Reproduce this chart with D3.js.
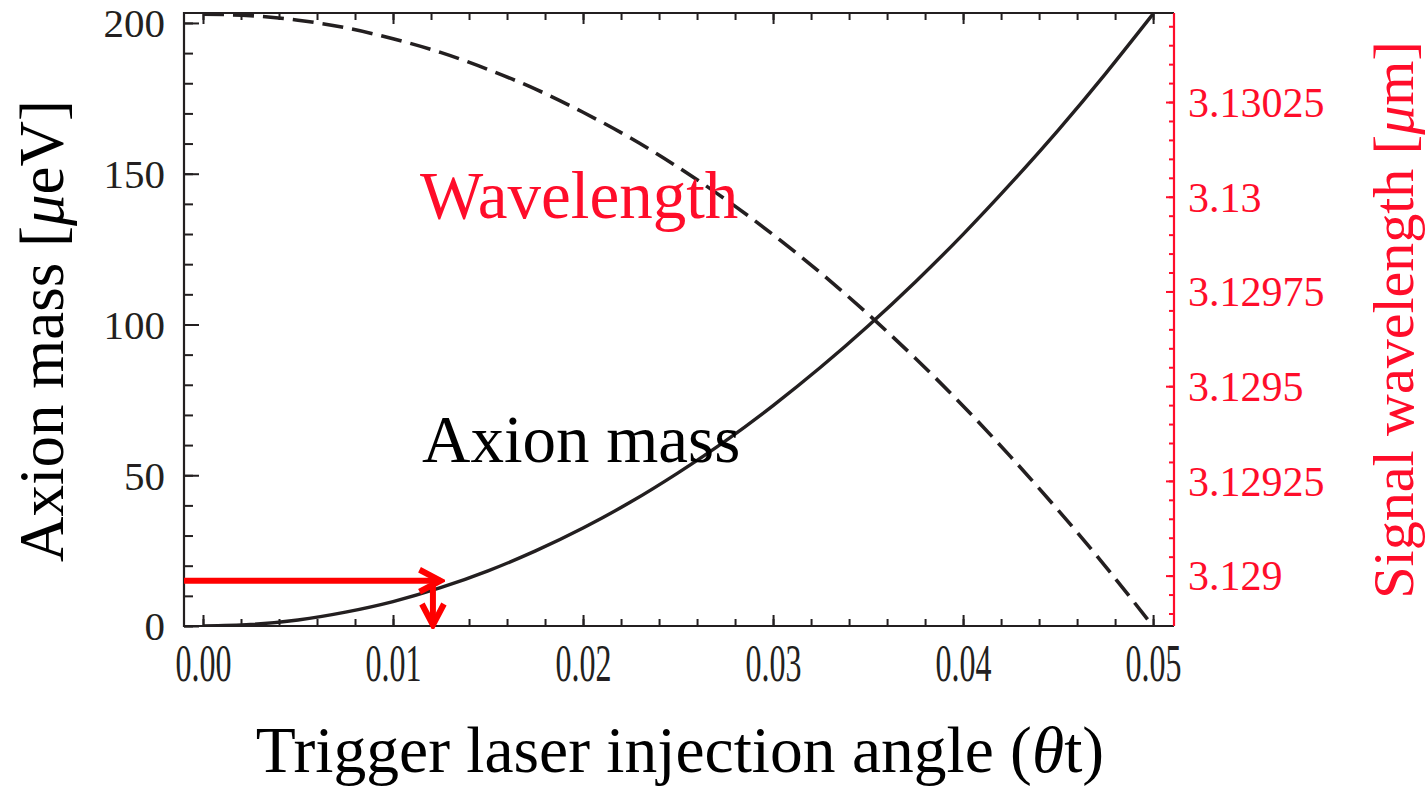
<!DOCTYPE html>
<html>
<head>
<meta charset="utf-8">
<script src="https://cdn.jsdelivr.net/npm/d3@7/dist/d3.min.js"></script>
<style>
  html, body { margin: 0; padding: 0; background: #ffffff; }
  svg { display: block; }
</style>
</head>
<body>
<svg id="chart" width="1427" height="788"></svg>
<script>
// Trigger laser injection angle (rad)
const angle = [0, 0.0025, 0.005, 0.0075, 0.01, 0.0125, 0.015, 0.0175, 0.02, 0.0225,
  0.025, 0.0275, 0.03, 0.0325, 0.035, 0.0375, 0.04, 0.0425, 0.045, 0.0475, 0.05];
// Axion mass [µeV]
const axionMass = [0, 0.5, 2.0, 4.6, 8.1, 12.7, 18.3, 24.9, 32.5, 41.1,
  50.8, 61.4, 73.1, 85.8, 99.5, 114.2, 129.9, 146.7, 164.4, 183.2, 203.0];
// Signal wavelength [µm]
const signalWavelength = [3.130482, 3.130478, 3.130466, 3.130446, 3.130417, 3.130381,
  3.130336, 3.130284, 3.130223, 3.130155, 3.130078, 3.129993, 3.129900, 3.129799,
  3.129690, 3.129573, 3.129448, 3.129314, 3.129173, 3.129024, 3.128866];

const angleTicks = [0, 0.01, 0.02, 0.03, 0.04, 0.05];
const angleTickLabels = ["0.00", "0.01", "0.02", "0.03", "0.04", "0.05"];
const massTicks = [0, 50, 100, 150, 200];
const wavelengthTicks = [3.129, 3.12925, 3.1295, 3.12975, 3.13, 3.13025];
const wavelengthTickLabels = ["3.129", "3.12925", "3.1295", "3.12975", "3.13", "3.13025"];

// Working point marked with red arrows
const markerMass = 15;
const markerAngle = 0.0121;
const markerArrowTip = 0.0125;

const angleDomain = [-0.001, 0.0511];
const massDomain = [0, 203.3];
const wavelengthDomain = [3.128867, 3.130485];

const RED = "#ff0d2a";
const INK = "#231f20";
const FONT = "'Liberation Serif', 'Times New Roman', serif";

const plot = { left: 184, right: 1174, top: 13, bottom: 626 };

const svg = d3.select("#chart");
svg.append("rect").attr("width", 1427).attr("height", 788).attr("fill", "#fff");

const x = d3.scaleLinear().domain(angleDomain).range([plot.left, plot.right]);
const y = d3.scaleLinear().domain(massDomain).range([plot.bottom, plot.top]);
const yR = d3.scaleLinear().domain(wavelengthDomain).range([plot.bottom, plot.top]);

const rangeStep = (a, b, s) => d3.range(Math.round((b - a) / s) + 1).map(i => a + i * s);
const minorAngle = rangeStep(0, 0.05, 0.002);
const minorMass = rangeStep(0, 200, 10);
const minorWave = rangeStep(3.12890, 3.13045, 0.00005);

function styleAxis(g, color) {
  g.select(".domain").remove();
  g.selectAll("line").attr("stroke", color).attr("stroke-width", 2);
  g.selectAll("text").attr("fill", color).style("font-family", FONT);
}

// bottom axis
const gB = svg.append("g").attr("transform", `translate(0,${plot.bottom})`);
gB.append("g").call(d3.axisBottom(x).tickValues(minorAngle).tickSize(-7).tickFormat(""))
  .call(g => styleAxis(g, INK));
gB.append("g").call(d3.axisBottom(x).tickValues(angleTicks).tickSize(-11).tickPadding(18)
    .tickFormat((d, i) => angleTickLabels[i]))
  .call(g => styleAxis(g, INK))
  .call(g => g.selectAll("text")
    .attr("dy", "0.71em")
    .style("font-size", "52px")
    .attr("textLength", 56)
    .attr("lengthAdjust", "spacingAndGlyphs")
    .attr("x", -28)
    .attr("text-anchor", "start"));

// top axis (mirrored ticks)
const gT = svg.append("g").attr("transform", `translate(0,${plot.top})`);
gT.append("g").call(d3.axisTop(x).tickValues(minorAngle).tickSize(-7).tickFormat(""))
  .call(g => styleAxis(g, INK));
gT.append("g").call(d3.axisTop(x).tickValues(angleTicks).tickSize(-11).tickFormat(""))
  .call(g => styleAxis(g, INK));

// left axis: axion mass
const gL = svg.append("g").attr("transform", `translate(${plot.left},0)`);
gL.append("g").call(d3.axisLeft(y).tickValues(minorMass).tickSize(-9).tickFormat(""))
  .call(g => styleAxis(g, INK));
gL.append("g").call(d3.axisLeft(y).tickValues(massTicks).tickSize(-15).tickPadding(19)
    .tickFormat(d3.format("d")))
  .call(g => styleAxis(g, INK))
  .call(g => g.selectAll("text").style("font-size", "41px").attr("dy", "0.34em"));

// right axis: signal wavelength
const gR = svg.append("g").attr("transform", `translate(${plot.right},0)`);
gR.append("g").call(d3.axisRight(yR).tickValues(minorWave).tickSize(-5).tickFormat(""))
  .call(g => styleAxis(g, RED));
gR.append("g").call(d3.axisRight(yR).tickValues(wavelengthTicks).tickSize(-8).tickPadding(14)
    .tickFormat((d, i) => wavelengthTickLabels[i]))
  .call(g => styleAxis(g, RED))
  .call(g => g.selectAll("text").style("font-size", "42px").attr("dy", "0.34em"));

// frame
svg.append("path")
  .attr("d", `M${plot.right},${plot.top}H${plot.left}V${plot.bottom}H${plot.right}`)
  .attr("fill", "none").attr("stroke", INK).attr("stroke-width", 2.2);
svg.append("line")
  .attr("x1", plot.right).attr("x2", plot.right)
  .attr("y1", plot.top).attr("y2", plot.bottom)
  .attr("stroke", RED).attr("stroke-width", 2.2);

// curves
svg.append("clipPath").attr("id", "plotClip").append("rect")
  .attr("x", plot.left).attr("y", plot.top - 3)
  .attr("width", plot.right - plot.left).attr("height", plot.bottom - plot.top + 3);

const curves = svg.append("g").attr("clip-path", "url(#plotClip)");

const massLine = d3.line().curve(d3.curveNatural)
  .x((d, i) => x(angle[i])).y(d => y(d));
const waveLine = d3.line().curve(d3.curveNatural)
  .x((d, i) => x(angle[i])).y(d => yR(d));

curves.append("path").datum(axionMass)
  .attr("d", massLine)
  .attr("fill", "none").attr("stroke", INK).attr("stroke-width", 3.4);

curves.append("path").datum(signalWavelength)
  .attr("d", waveLine)
  .attr("fill", "none").attr("stroke", INK).attr("stroke-width", 3.6)
  .attr("stroke-dasharray", "21,9");

// red arrows
const defs = svg.append("defs");
defs.append("marker")
  .attr("id", "chevron")
  .attr("markerUnits", "userSpaceOnUse")
  .attr("viewBox", "-2 -14 30 28")
  .attr("markerWidth", 30).attr("markerHeight", 28)
  .attr("refX", 24).attr("refY", 0)
  .attr("orient", "auto")
  .append("path")
  .attr("d", "M3,-11L24,0L3,11")
  .attr("fill", "none").attr("stroke", "#ff0000")
  .attr("stroke-width", 6).attr("stroke-linejoin", "miter");

svg.append("line")
  .attr("x1", x(angleDomain[0])).attr("y1", y(markerMass))
  .attr("x2", x(markerArrowTip)).attr("y2", y(markerMass))
  .attr("stroke", "#ff0000").attr("stroke-width", 6)
  .attr("marker-end", "url(#chevron)");

svg.append("line")
  .attr("x1", x(markerAngle)).attr("y1", y(markerMass))
  .attr("x2", x(markerAngle)).attr("y2", y(0) - 1)
  .attr("stroke", "#ff0000").attr("stroke-width", 6)
  .attr("marker-end", "url(#chevron)");

// in-plot labels
svg.append("text")
  .attr("x", 420).attr("y", 218)
  .attr("fill", RED)
  .style("font-family", FONT).style("font-size", "67px")
  .text("Wavelength");

svg.append("text")
  .attr("x", 422).attr("y", 462)
  .attr("fill", "#000")
  .style("font-family", FONT).style("font-size", "67px")
  .text("Axion mass");

// axis titles
svg.append("text")
  .attr("transform", "translate(63,331) rotate(-90)")
  .attr("text-anchor", "middle")
  .attr("fill", "#000")
  .style("font-family", FONT).style("font-size", "63px")
  .call(t => {
    t.append("tspan").text("Axion mass [");
    t.append("tspan").style("font-style", "italic").text("\u03bc");
    t.append("tspan").text("eV]");
  });

svg.append("text")
  .attr("transform", "translate(1413,320) rotate(-90)")
  .attr("text-anchor", "middle")
  .attr("fill", RED)
  .style("font-family", FONT).style("font-size", "58px")
  .call(t => {
    t.append("tspan").text("Signal wavelength [");
    t.append("tspan").style("font-style", "italic").text("\u03bc");
    t.append("tspan").text("m]");
  });

svg.append("text")
  .attr("x", 680).attr("y", 772)
  .attr("text-anchor", "middle")
  .attr("fill", "#000")
  .style("font-family", FONT).style("font-size", "65.5px")
  .call(t => {
    t.append("tspan").text("Trigger laser injection angle (");
    t.append("tspan").style("font-style", "italic").text("\u03b8");
    t.append("tspan").text("t)");
  });
</script>
</body>
</html>
